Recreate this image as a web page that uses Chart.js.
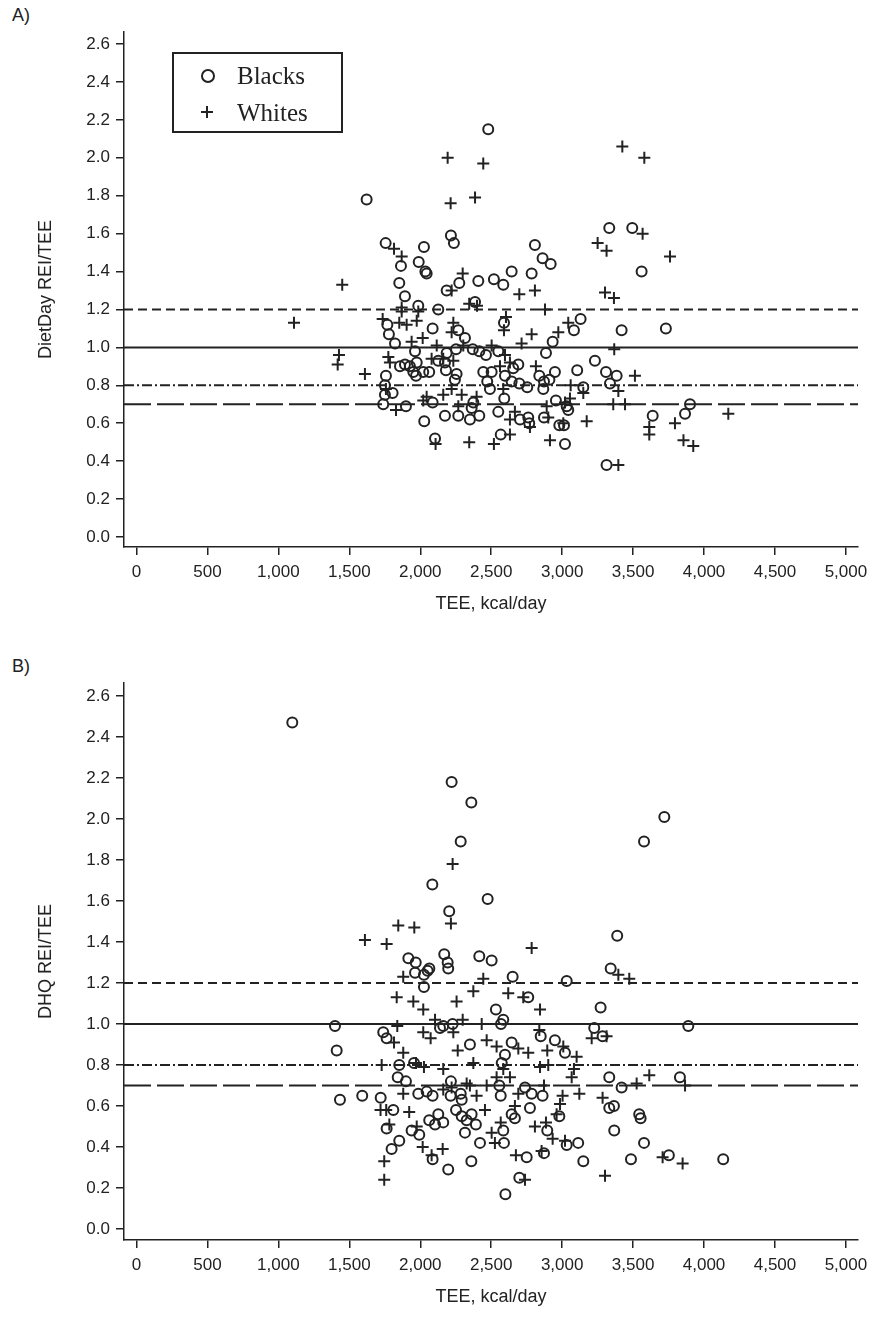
<!DOCTYPE html>
<html>
<head>
<meta charset="utf-8">
<script src="https://cdn.jsdelivr.net/npm/chart.js@4.4.1/dist/chart.umd.min.js"></script>
<style>
  body { margin: 0; background: #fff; }
  #page { position: relative; width: 876px; height: 1325px; overflow: hidden; background: #fff; }
  canvas { position: absolute; left: 0; }
  .panel-label { position: absolute; left: 12px; font: 18px "Liberation Sans", Arial, sans-serif; color: #222; line-height: 20px; }
  .legend { position: absolute; left: 172px; top: 52px; width: 167px; height: 77px; border: 2px solid #222;
            font: 25px "Liberation Serif", "Times New Roman", serif; color: #222; }
  .legend .txt { position: absolute; left: 63px; line-height: 30px; }
  .legend .ring { position: absolute; left: 27px; top: 15px; width: 10px; height: 10px; border: 2px solid #222; border-radius: 50%; }
  .legend .bar { position: absolute; background: #222; }
</style>
</head>
<body>
<div id="page">
  <div class="panel-label" style="top:5px">A)</div>
  <canvas id="chartA" width="876" height="632" style="top:0"></canvas>
  <div class="legend">
    <div class="ring"></div>
    <div class="txt" style="top:7px">Blacks</div>
    <div class="bar" style="left:27px; top:57px; width:12px; height:2px"></div>
    <div class="bar" style="left:32px; top:52px; width:2px; height:12px"></div>
    <div class="txt" style="top:44px">Whites</div>
  </div>
  <div class="panel-label" style="top:656px">B)</div>
  <canvas id="chartB" width="876" height="675" style="top:650px"></canvas>
</div>
<script>
// axis ticks
const xTicks = [0, 500, 1000, 1500, 2000, 2500, 3000, 3500, 4000, 4500, 5000];
const yTicks = [0, 0.2, 0.4, 0.6, 0.8, 1.0, 1.2, 1.4, 1.6, 1.8, 2.0, 2.2, 2.4, 2.6];
const refLevels = [1.2, 1.0, 0.8, 0.7];

// A) DietDay REI/TEE vs TEE
const dietDayBlacks = [
  [1622,1.78],[2216,1.59],[2237,1.55],[1756,1.55],[2026,1.53],[1864,1.43],[1989,1.45],[2036,1.40],
  [2045,1.39],[2275,1.34],[1852,1.34],[2186,1.30],[1892,1.27],[1986,1.22],[2127,1.20],[2479,2.15],
  [3332,1.63],[3494,1.63],[2808,1.54],[2862,1.47],[2919,1.44],[2644,1.40],[2785,1.39],[2409,1.35],
  [2519,1.36],[2585,1.33],[3560,1.40],[2386,1.24],[1768,1.12],[2087,1.10],[1779,1.07],[1822,1.02],
  [1963,0.98],[2268,1.09],[2315,1.05],[1857,0.90],[1892,0.91],[1927,0.90],[1975,0.92],[1951,0.87],
  [1970,0.85],[2021,0.87],[2063,0.87],[2127,0.93],[2186,0.97],[2174,0.92],[2181,0.88],[2252,0.99],
  [2256,0.86],[2244,0.83],[1758,0.85],[1751,0.80],[1751,0.75],[1805,0.76],[1739,0.70],[1899,0.69],
  [2028,0.61],[2174,0.64],[2268,0.64],[2350,0.62],[2087,0.71],[2104,0.52],[2590,1.13],[3130,1.15],
  [3083,1.09],[3419,1.09],[3731,1.10],[2933,1.03],[2886,0.97],[2370,0.99],[2416,0.98],[2463,0.96],
  [2550,0.98],[2691,0.91],[2655,0.89],[2597,0.85],[2444,0.87],[2503,0.87],[2472,0.82],[2491,0.78],
  [2644,0.82],[2698,0.81],[2754,0.79],[2839,0.85],[2910,0.83],[2949,0.87],[2872,0.82],[2867,0.78],
  [3106,0.88],[3149,0.79],[3231,0.93],[3309,0.87],[3384,0.85],[3337,0.81],[2592,0.73],[2374,0.71],
  [2362,0.68],[2416,0.64],[2550,0.66],[2703,0.62],[2761,0.63],[2768,0.60],[2872,0.63],[2956,0.72],
  [3032,0.69],[3043,0.67],[2980,0.59],[3013,0.59],[3638,0.64],[2567,0.54],[3020,0.49],[3313,0.38],
  [3901,0.70],[3866,0.65]
];
const dietDayWhites = [
  [2193,2.00],[2214,1.76],[1815,1.52],[1869,1.48],[2299,1.39],[1450,1.33],[2221,1.30],[1869,1.21],
  [2345,1.23],[2444,1.97],[2386,1.79],[3424,2.06],[3579,2.00],[3567,1.60],[3250,1.55],[3313,1.51],
  [3760,1.48],[2698,1.28],[2808,1.30],[3302,1.29],[3365,1.26],[2400,1.22],[2879,1.20],[1110,1.13],
  [1735,1.15],[1869,1.19],[1986,1.19],[1852,1.13],[1904,1.12],[1975,1.14],[2017,1.05],[1939,1.03],
  [2116,1.01],[2233,1.13],[2221,1.08],[2303,1.01],[1427,0.96],[1418,0.91],[1610,0.86],[1775,0.95],
  [1786,0.92],[2080,0.94],[2162,0.94],[2233,0.93],[1758,0.78],[1829,0.67],[2045,0.74],[2021,0.72],
  [2162,0.75],[2221,0.78],[2292,0.75],[2268,0.69],[2108,0.49],[2345,0.50],[2604,1.16],[2590,1.09],
  [2785,1.07],[3043,1.13],[2973,1.08],[2714,1.02],[3367,0.99],[2503,1.01],[2597,0.96],[2632,0.92],
  [2562,0.90],[2815,0.90],[3060,0.80],[3149,0.76],[3513,0.85],[3396,0.77],[2585,0.78],[2397,0.74],
  [2667,0.66],[2632,0.62],[2773,0.58],[2891,0.69],[2902,0.63],[3055,0.73],[3020,0.71],[3008,0.60],
  [3173,0.61],[3360,0.70],[3443,0.70],[3614,0.58],[3614,0.54],[2632,0.54],[2519,0.49],[2914,0.51],
  [3396,0.38],[3795,0.60],[4171,0.65],[3855,0.51],[3924,0.48]
];

// B) DHQ REI/TEE vs TEE
const dhqBlacks = [
  [1098,2.47],[2221,2.18],[2360,2.08],[2285,1.89],[2085,1.68],[2204,1.55],[3720,2.01],[3577,1.89],
  [2475,1.61],[3388,1.43],[1916,1.32],[1968,1.30],[1963,1.25],[2026,1.24],[2052,1.26],[2064,1.27],
  [2026,1.18],[2169,1.34],[2193,1.30],[2197,1.27],[1399,0.99],[1411,0.87],[1739,0.96],[1763,0.93],
  [2139,0.98],[2162,0.99],[2228,1.00],[2350,0.90],[1852,0.80],[1956,0.81],[1841,0.74],[1899,0.72],
  [1434,0.63],[1591,0.65],[1721,0.64],[1810,0.58],[1986,0.66],[2045,0.67],[2087,0.65],[2216,0.72],
  [2214,0.65],[2285,0.66],[2292,0.63],[2252,0.58],[2292,0.55],[2327,0.53],[2127,0.56],[2063,0.53],
  [2104,0.51],[2162,0.52],[2315,0.47],[1763,0.49],[1939,0.48],[1993,0.46],[1852,0.43],[1798,0.39],
  [2087,0.34],[2197,0.29],[2360,0.33],[2416,1.33],[2503,1.31],[3342,1.27],[2651,1.23],[3032,1.21],
  [2761,1.13],[3271,1.08],[2533,1.07],[2585,1.02],[2569,1.00],[2849,0.94],[2949,0.92],[3226,0.98],
  [3285,0.94],[2644,0.91],[2597,0.85],[3020,0.86],[2574,0.81],[2557,0.70],[2738,0.69],[3332,0.74],
  [3419,0.69],[2567,0.65],[2785,0.66],[2862,0.65],[3332,0.59],[3365,0.60],[2644,0.56],[2667,0.54],
  [2773,0.59],[2980,0.55],[2362,0.56],[2392,0.51],[2585,0.48],[2895,0.48],[3367,0.48],[3543,0.56],
  [3553,0.54],[2421,0.42],[2590,0.42],[3032,0.41],[3113,0.42],[3577,0.42],[2872,0.37],[2750,0.35],
  [3149,0.33],[3485,0.34],[3752,0.36],[2698,0.25],[2600,0.17],[3889,0.99],[3830,0.74],[4135,0.34]
];
const dhqWhites = [
  [2228,1.78],[1845,1.48],[1958,1.47],[2216,1.49],[1610,1.41],[1763,1.39],[2785,1.37],[1880,1.23],
  [1834,1.13],[1951,1.11],[2021,1.07],[2256,1.11],[1838,0.99],[1815,0.91],[1880,0.86],[2104,1.02],
  [2021,0.96],[2073,0.93],[2299,1.02],[2233,0.96],[2264,0.87],[1728,0.80],[1970,0.81],[2026,0.79],
  [2162,0.78],[1880,0.66],[1720,0.58],[1760,0.58],[1922,0.57],[2162,0.68],[2221,0.69],[2327,0.71],
  [1782,0.51],[1975,0.50],[2017,0.40],[2080,0.36],[2158,0.39],[1746,0.33],[1746,0.24],[3396,1.24],
  [3473,1.22],[2444,1.22],[2374,1.16],[2620,1.15],[2726,1.13],[2844,1.07],[2433,1.00],[2839,0.97],
  [3208,0.93],[3313,0.94],[2468,0.92],[2538,0.89],[2691,0.88],[2761,0.86],[2895,0.87],[3008,0.89],
  [3102,0.84],[2374,0.81],[2585,0.78],[2632,0.74],[2844,0.79],[2902,0.80],[3083,0.78],[3067,0.74],
  [2538,0.74],[2468,0.70],[2350,0.70],[2872,0.70],[3525,0.71],[3614,0.75],[2397,0.65],[2691,0.66],
  [3003,0.65],[3121,0.66],[3285,0.64],[2985,0.61],[2456,0.58],[2667,0.60],[2961,0.56],[2567,0.52],
  [2503,0.47],[2808,0.50],[2886,0.52],[2933,0.44],[2526,0.42],[3020,0.43],[2855,0.38],[2674,0.36],
  [3708,0.35],[2738,0.24],[3302,0.26],[3866,0.70],[3849,0.32]
];

const ink = "#222";
const tickFont = { family: "'Liberation Sans', Arial, sans-serif", size: 17 };
const titleFont = { family: "'Liberation Sans', Arial, sans-serif", size: 18 };
const xMin = -88, xMax = 5085;
const refDashes = [[9, 5], [], [10, 3, 2, 3], [27, 6]];

function toPoints(pairs) {
  return pairs.map(p => ({ x: p[0], y: p[1] }));
}

function makePanel(canvasId, blacks, whites, yTitle, yMin, yMax, padTop) {
  const refSets = refLevels.map((lvl, i) => ({
    data: [{ x: xMin, y: lvl }, { x: xMax, y: lvl }],
    showLine: true,
    borderColor: ink,
    borderWidth: 2,
    borderDash: refDashes[i],
    pointRadius: 0
  }));

  return new Chart(document.getElementById(canvasId).getContext("2d"), {
    type: "scatter",
    data: {
      datasets: [
        {
          label: "Blacks",
          data: toPoints(blacks),
          pointStyle: "circle",
          pointRadius: 5,
          borderWidth: 2,
          borderColor: ink,
          backgroundColor: "rgba(0,0,0,0)"
        },
        {
          label: "Whites",
          data: toPoints(whites),
          pointStyle: "cross",
          pointRadius: 6,
          borderWidth: 2,
          borderColor: ink
        },
        ...refSets
      ]
    },
    options: {
      responsive: false,
      animation: false,
      devicePixelRatio: 1,
      layout: { padding: { top: padTop, left: 0, right: 18, bottom: 0 } },
      plugins: { legend: { display: false }, tooltip: { enabled: false } },
      scales: {
        x: {
          type: "linear",
          min: xMin,
          max: xMax,
          afterBuildTicks: axis => { axis.ticks = xTicks.map(v => ({ value: v })); },
          afterFit: scale => { scale.height = 85; },
          ticks: {
            color: ink,
            font: tickFont,
            padding: 7,
            maxRotation: 0,
            autoSkip: false,
            callback: value => value.toLocaleString("en-US")
          },
          grid: { drawOnChartArea: false, drawTicks: true, tickLength: 8, color: ink, lineWidth: 1.5 },
          border: { display: true, color: ink, width: 1.5 },
          title: { display: true, text: "TEE, kcal/day", color: ink, font: titleFont, padding: { top: 0, bottom: 17 } }
        },
        y: {
          type: "linear",
          min: yMin,
          max: yMax,
          afterBuildTicks: axis => { axis.ticks = yTicks.map(v => ({ value: v })); },
          afterFit: scale => { scale.width = 124; },
          ticks: {
            color: ink,
            font: tickFont,
            padding: 6,
            autoSkip: false,
            callback: value => value.toFixed(1)
          },
          grid: { drawOnChartArea: false, drawTicks: true, tickLength: 8, color: ink, lineWidth: 1.5 },
          border: { display: true, color: ink, width: 1.5 },
          title: { display: true, text: yTitle, color: ink, font: titleFont, padding: { top: 35, bottom: 0 } }
        }
      }
    }
  });
}

makePanel("chartA", dietDayBlacks, dietDayWhites, "DietDay REI/TEE", -0.0527, 2.6635, 32);
makePanel("chartB", dhqBlacks, dhqWhites, "DHQ REI/TEE", -0.0537, 2.663, 33);
</script>
</body>
</html>
